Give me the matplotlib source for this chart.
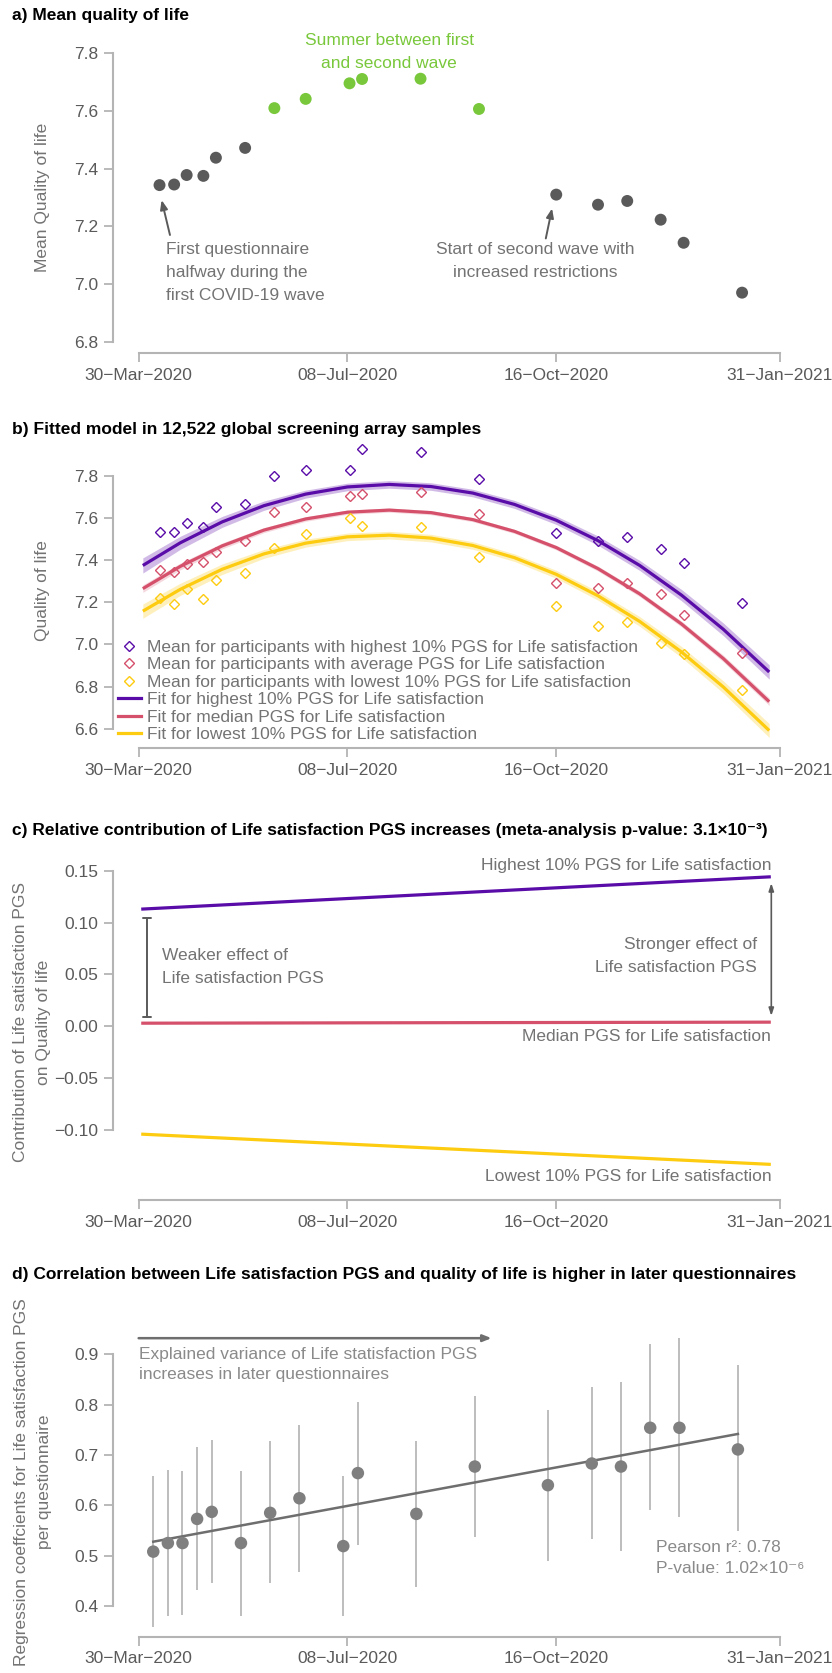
import numpy as np
import matplotlib
matplotlib.use("Agg")
import matplotlib.pyplot as plt
import matplotlib.dates as mdates
from matplotlib.lines import Line2D

plt.rcParams['font.family'] = ['Liberation Sans', 'DejaVu Sans']

W, H = 832, 1673

# ---- data ----
# mean response date of each questionnaire (panels a, b)
q_dates = np.array(['2020-04-09', '2020-04-16', '2020-04-22', '2020-04-30', '2020-05-06',
                    '2020-05-20', '2020-06-03', '2020-06-18', '2020-07-09', '2020-07-15',
                    '2020-08-12', '2020-09-09', '2020-10-16', '2020-11-05', '2020-11-19',
                    '2020-12-05', '2020-12-16', '2021-01-13'], dtype='datetime64[D]')
qol_mean = [7.343, 7.345, 7.378, 7.375, 7.438, 7.472, 7.610, 7.642, 7.696, 7.711,
            7.712, 7.607, 7.310, 7.275, 7.288, 7.223, 7.143, 6.970]
summer = [False] * 6 + [True] * 6 + [False] * 6

qol_high = [7.532, 7.534, 7.575, 7.559, 7.653, 7.669, 7.800, 7.828, 7.828, 7.927,
            7.916, 7.786, 7.528, 7.490, 7.512, 7.455, 7.385, 7.198]
qol_avg = [7.352, 7.346, 7.382, 7.390, 7.441, 7.490, 7.629, 7.651, 7.707, 7.715,
           7.724, 7.621, 7.293, 7.270, 7.293, 7.238, 7.140, 6.958]
qol_low = [7.219, 7.192, 7.262, 7.214, 7.305, 7.339, 7.458, 7.523, 7.601, 7.563,
           7.558, 7.415, 7.181, 7.086, 7.107, 7.007, 6.956, 6.784]

# fitted curves and half width of their bands
fit_dates = np.array(['2020-04-01', '2020-04-19', '2020-05-09', '2020-05-29', '2020-06-18',
                      '2020-07-08', '2020-07-28', '2020-08-17', '2020-09-06', '2020-09-26',
                      '2020-10-16', '2020-11-05', '2020-11-25', '2020-12-15', '2021-01-04',
                      '2021-01-26'], dtype='datetime64[D]')
fit_high = [7.375, 7.483, 7.582, 7.659, 7.714, 7.748, 7.760, 7.750, 7.719, 7.665,
            7.590, 7.493, 7.375, 7.234, 7.072, 6.869]
fit_med = [7.265, 7.371, 7.468, 7.543, 7.596, 7.628, 7.638, 7.626, 7.593, 7.537,
           7.460, 7.360, 7.240, 7.097, 6.933, 6.728]
fit_low = [7.158, 7.262, 7.357, 7.430, 7.481, 7.511, 7.519, 7.505, 7.470, 7.412,
           7.333, 7.231, 7.109, 6.964, 6.798, 6.591]
band_high = [0.036, 0.031, 0.026, 0.022, 0.019, 0.018, 0.018, 0.018, 0.018, 0.019,
             0.020, 0.022, 0.024, 0.027, 0.030, 0.034]
band_med = [0.018, 0.016, 0.014, 0.012, 0.011, 0.010, 0.010, 0.010, 0.010, 0.010,
            0.011, 0.012, 0.013, 0.014, 0.016, 0.018]
band_low = [0.034, 0.029, 0.025, 0.021, 0.019, 0.018, 0.018, 0.018, 0.018, 0.018,
            0.019, 0.021, 0.023, 0.026, 0.029, 0.033]

# panel c: contribution of PGS (start / end of period)
contrib_dates = np.array(['2020-04-01', '2021-01-26'], dtype='datetime64[D]')
contrib_high = [0.113, 0.144]
contrib_med = [0.003, 0.004]
contrib_low = [-0.104, -0.133]

# panel d: questionnaire start dates, regression coefficients and CI
d_dates = np.array(['2020-04-06', '2020-04-13', '2020-04-20', '2020-04-27', '2020-05-04',
                    '2020-05-18', '2020-06-01', '2020-06-15', '2020-07-06', '2020-07-13',
                    '2020-08-10', '2020-09-07', '2020-10-12', '2020-11-02', '2020-11-16',
                    '2020-11-30', '2020-12-14', '2021-01-11'], dtype='datetime64[D]')
coef = [0.508, 0.525, 0.525, 0.573, 0.587, 0.525, 0.585, 0.614, 0.519, 0.664,
        0.583, 0.677, 0.640, 0.683, 0.677, 0.754, 0.754, 0.711]
ci_low = [0.359, 0.380, 0.382, 0.432, 0.445, 0.380, 0.445, 0.468, 0.380, 0.521,
          0.438, 0.538, 0.490, 0.534, 0.509, 0.590, 0.577, 0.548]
ci_high = [0.659, 0.670, 0.669, 0.715, 0.730, 0.668, 0.727, 0.760, 0.658, 0.806,
           0.728, 0.818, 0.789, 0.836, 0.845, 0.921, 0.932, 0.878]

tick_dates = np.array(['2020-03-30', '2020-07-08', '2020-10-16', '2021-01-31'], dtype='datetime64[D]')
tick_labels = ['30\u2212Mar\u22122020', '08\u2212Jul\u22122020', '16\u2212Oct\u22122020', '31\u2212Jan\u22122021']

# ---- style ----
PURPLE = '#5a0ca8'
RED = '#d5506b'
YELLOW = '#fdcb0f'
GREEN = '#79c83b'
DARK = '#5a5a5a'
GREY_TXT = '#737373'
SPINE = '#b4b4b4'
FS = 12.5
FS_TICK = 12.5
LS = 1.65

fig = plt.figure(figsize=(W / 100, H / 100), dpi=100)


def add_axes(top_px, bottom_px):
    left, right = 113, 805.3
    return fig.add_axes([left / W, 1 - bottom_px / H, (right - left) / W, (bottom_px - top_px) / H])


tnum = mdates.date2num(tick_dates)
pad = 0.04 * (tnum[-1] - tnum[0])


def style(ax, yticks, fmt):
    ax.set_xlim(tnum[0] - pad, tnum[-1] + pad)
    ax.set_xticks(tnum)
    ax.set_xticklabels(tick_labels)
    ax.set_yticks(yticks)
    ax.set_yticklabels([fmt.format(v).replace('-', '\u2212') for v in yticks])
    for s in ['top', 'right']:
        ax.spines[s].set_visible(False)
    for s in ['left', 'bottom']:
        ax.spines[s].set_color(SPINE)
        ax.spines[s].set_linewidth(1.5)
    ax.spines['left'].set_bounds(yticks[0], yticks[-1])
    ax.spines['bottom'].set_bounds(tnum[0], tnum[-1])
    ax.tick_params(length=6.5, width=1.3, color=SPINE, labelcolor=DARK, labelsize=FS_TICK, pad=4)
    ax.patch.set_alpha(0)


def title(y_px, txt):
    fig.text(12 / W, 1 - y_px / H, txt, fontsize=FS, fontweight='bold', va='center', ha='left')


def ylab(x_px, y_px, txt):
    fig.text(x_px / W, 1 - y_px / H, txt, rotation=90, ha='center', va='center',
             fontsize=FS, color=GREY_TXT, linespacing=LS)


# ---- a) ----
ax = add_axes(41.8, 353.2)
ax.set_ylim(6.76, 7.84)
style(ax, [6.8, 7.0, 7.2, 7.4, 7.6, 7.8], '{:.1f}')
cols = [GREEN if s else DARK for s in summer]
ax.scatter(q_dates, qol_mean, s=8.6 ** 2, c=cols, edgecolors='none', zorder=3)
title(15.7, 'a) Mean quality of life')
ylab(42.7, 197.5, 'Mean Quality of life')
arrow = dict(arrowstyle='-|>, head_length=0.55, head_width=0.22', color=DARK, lw=1.4,
             shrinkA=0, shrinkB=0)
ax.annotate('', xy=(np.datetime64('2020-04-10'), 7.291), xytext=(np.datetime64('2020-04-14'), 7.170),
            arrowprops=arrow)
ax.text(np.datetime64('2020-04-12'), 7.040, 'First questionnaire\nhalfway during the\nfirst COVID-19 wave',
        ha='left', va='center', fontsize=FS, color=GREY_TXT, linespacing=LS)
ax.annotate('', xy=(np.datetime64('2020-10-14'), 7.262), xytext=(np.datetime64('2020-10-11'), 7.158),
            arrowprops=arrow)
ax.text(np.datetime64('2020-10-06'), 7.080, 'Start of second wave with\nincreased restrictions',
        ha='center', va='center', fontsize=FS, color=GREY_TXT, linespacing=LS)
ax.text(np.datetime64('2020-07-28'), 7.805, 'Summer between first\nand second wave',
        ha='center', va='center', fontsize=FS, color=GREEN, linespacing=LS)

# ---- b) ----
ax = add_axes(433.9, 748)
ax.set_ylim(6.508, 8.0)
style(ax, [6.6, 6.8, 7.0, 7.2, 7.4, 7.6, 7.8], '{:.1f}')
for fit, band, col, a in [(fit_high, band_high, PURPLE, 0.28), (fit_med, band_med, RED, 0.22),
                          (fit_low, band_low, YELLOW, 0.28)]:
    f = np.array(fit)
    b = np.array(band)
    ax.fill_between(fit_dates, f - b, f + b, color=col, alpha=a, lw=0, zorder=1)
    ax.plot(fit_dates, f, color=col, lw=2.3, zorder=2, solid_capstyle='butt')
for vals, col in [(qol_high, PURPLE), (qol_avg, RED), (qol_low, YELLOW)]:
    ax.plot(q_dates, vals, ls='none', marker='D', ms=5.6, mfc='none', mec=col, mew=1.0, zorder=3)
handles = [Line2D([], [], ls='none', marker='D', ms=5.6, mfc='none', mec=PURPLE, mew=1.0),
           Line2D([], [], ls='none', marker='D', ms=5.6, mfc='none', mec=RED, mew=1.0),
           Line2D([], [], ls='none', marker='D', ms=5.6, mfc='none', mec=YELLOW, mew=1.0),
           Line2D([], [], color=PURPLE, lw=2.3),
           Line2D([], [], color=RED, lw=2.3),
           Line2D([], [], color=YELLOW, lw=2.3)]
labels = ['Mean for participants with highest 10% PGS for Life satisfaction',
          'Mean for participants with average PGS for Life satisfaction',
          'Mean for participants with lowest 10% PGS for Life satisfaction',
          'Fit for highest 10% PGS for Life satisfaction',
          'Fit for median PGS for Life satisfaction',
          'Fit for lowest 10% PGS for Life satisfaction']
leg = ax.legend(handles, labels, loc='lower left', bbox_to_anchor=((118 - 113) / 692.3, (748 - 742) / 314.1),
                frameon=False, fontsize=FS, handlelength=1.3, handletextpad=0.35,
                labelspacing=0.13, borderpad=0, borderaxespad=0)
for t in leg.get_texts():
    t.set_color(GREY_TXT)
title(429.3, 'b) Fitted model in 12,522 global screening array samples')
ylab(42.7, 591, 'Quality of life')

# ---- c) ----
ax = add_axes(849.9, 1200)
ax.set_ylim(-0.1674, 0.17)
style(ax, [-0.10, -0.05, 0.0, 0.05, 0.10, 0.15], '{:.2f}')
ax.plot(contrib_dates, contrib_high, color=PURPLE, lw=2.3)
ax.plot(contrib_dates, contrib_med, color=RED, lw=2.3)
ax.plot(contrib_dates, contrib_low, color=YELLOW, lw=2.3)
ax.annotate('', xy=(np.datetime64('2020-04-03'), 0.009), xytext=(np.datetime64('2020-04-03'), 0.104),
            arrowprops=dict(arrowstyle='|-|, widthA=0.3, widthB=0.3', color=DARK, lw=1.4,
                            shrinkA=0, shrinkB=0))
ax.annotate('', xy=(np.datetime64('2021-01-27'), 0.010), xytext=(np.datetime64('2021-01-27'), 0.138),
            arrowprops=dict(arrowstyle='<|-|>, head_length=0.45, head_width=0.15', color=DARK, lw=1.2,
                            shrinkA=0, shrinkB=0))
ax.text(np.datetime64('2020-04-10'), 0.057, 'Weaker effect of\nLife satisfaction PGS',
        ha='left', va='center', fontsize=FS, color=GREY_TXT, linespacing=LS)
ax.text(np.datetime64('2021-01-20'), 0.068, 'Stronger effect of\nLife satisfaction PGS',
        ha='right', va='center', fontsize=FS, color=GREY_TXT, linespacing=LS, multialignment='right')
ax.text(np.datetime64('2021-01-27'), 0.1548, 'Highest 10% PGS for Life satisfaction',
        ha='right', va='center', fontsize=FS, color=GREY_TXT)
ax.text(np.datetime64('2021-01-27'), -0.010, 'Median PGS for Life satisfaction',
        ha='right', va='center', fontsize=FS, color=GREY_TXT)
ax.text(np.datetime64('2021-01-27'), -0.145, 'Lowest 10% PGS for Life satisfaction',
        ha='right', va='center', fontsize=FS, color=GREY_TXT)
title(830, 'c) Relative contribution of Life satisfaction PGS increases (meta-analysis p-value: 3.1\u00d710\u207b\u00b3)')
ylab(32, 1022, 'Contribution of Life satisfaction PGS\non Quality of life')

# ---- d) ----
ax = add_axes(1326.6, 1636.7)
ax.set_ylim(0.339, 0.955)
style(ax, [0.4, 0.5, 0.6, 0.7, 0.8, 0.9], '{:.1f}')
ax.vlines(d_dates, ci_low, ci_high, color='#bdbdbd', lw=1.4, zorder=1)
dn = mdates.date2num(d_dates)
k, c0 = np.polyfit(dn, coef, 1)
ax.plot(d_dates[[0, -1]], k * dn[[0, -1]] + c0, color='#6e6e6e', lw=1.8, zorder=2)
ax.scatter(d_dates, coef, s=9 ** 2, c='#7f7f7f', edgecolors='none', zorder=3)
ax.annotate('', xy=(np.datetime64('2020-09-15'), 0.932), xytext=(np.datetime64('2020-03-30'), 0.932),
            arrowprops=dict(arrowstyle='-|>, head_length=0.5, head_width=0.2', color='#6e6e6e', lw=1.8,
                            shrinkA=0, shrinkB=0), annotation_clip=False)
ax.text(np.datetime64('2020-03-30'), 0.900, 'Explained variance of Life statisfaction PGS',
        ha='left', va='center', fontsize=FS, color='#8a8a8a')
ax.text(np.datetime64('2020-03-30'), 0.860, 'increases in later questionnaires',
        ha='left', va='center', fontsize=FS, color='#8a8a8a')
ax.text(np.datetime64('2020-12-03'), 0.517, 'Pearson r\u00b2: 0.78',
        ha='left', va='center', fontsize=FS, color='#8a8a8a')
ax.text(np.datetime64('2020-12-03'), 0.474, 'P-value: 1.02\u00d710\u207b\u2076',
        ha='left', va='center', fontsize=FS, color='#8a8a8a')
title(1275, 'd) Correlation between Life satisfaction PGS and quality of life is higher in later questionnaires')
ylab(33, 1482, 'Regression coeffcients for Life satisfaction PGS\nper questionnaire')

fig.savefig('out.png', dpi=100)
